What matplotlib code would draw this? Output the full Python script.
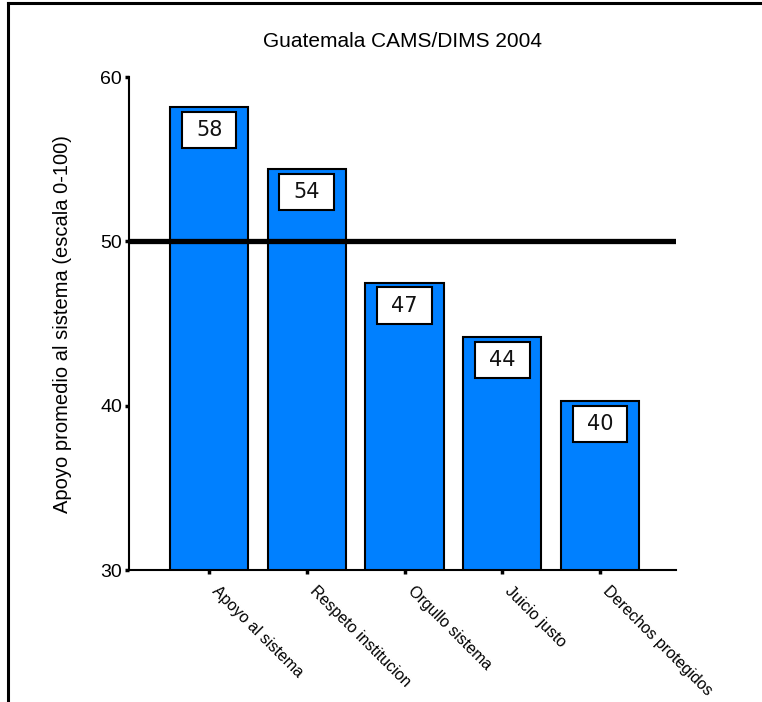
import matplotlib
matplotlib.use("Agg")
from matplotlib import pyplot as plt
from matplotlib.patches import Rectangle
from matplotlib.lines import Line2D
import numpy as np

# values
categories = ["Apoyo al sistema", "Respeto institucion", "Orgullo sistema",
              "Juicio justo", "Derechos protegidos"]
values = [58.2, 54.4, 47.5, 44.2, 40.3]
labels = ["58", "54", "47", "44", "40"]
reference = 50
yticks = [30, 40, 50, 60]

plt.rcParams['font.family'] = ['Liberation Sans', 'DejaVu Sans']

fig = plt.figure(figsize=(7.62, 7.02), dpi=100)
ax = fig.add_axes([0.1693, 0.188, 0.718, 0.702])

x = np.arange(len(categories))
ax.bar(x, values, width=0.8, bottom=0, color='#0080ff', edgecolor='black',
       linewidth=1.5, zorder=2)
ax.axhline(reference, color='black', linewidth=3.8, zorder=3)

# white value boxes sitting just inside the top of each bar
box_w, box_h, gap = 0.56, 2.2, 0.3
for xi, v, lab in zip(x, values, labels):
    ax.add_patch(Rectangle((xi - box_w / 2, v - gap - box_h), box_w, box_h,
                           facecolor='white', edgecolor='black', lw=1.5, zorder=4))
    ax.text(xi, v - gap - box_h / 2, lab, ha='center', va='center',
            fontsize=15, family='DejaVu Sans', zorder=5, color='#111111')

ax.set_xlim(-0.82, 4.78)
ax.set_ylim(30, 60)
ax.set_yticks(yticks)
ax.set_xticks(x)
ax.set_xticklabels(categories, rotation=-45, ha='left', va='bottom',
                   rotation_mode='anchor', fontsize=11.5)
ax.tick_params(axis='y', direction='out', length=3, width=2.5, labelsize=14, pad=2)
ax.tick_params(axis='x', direction='out', length=3, width=2.5, pad=14)
for side in ['top', 'right']:
    ax.spines[side].set_visible(False)
for side in ['left', 'bottom']:
    ax.spines[side].set_linewidth(1.5)
ax.set_ylabel("Apoyo promedio al sistema (escala 0-100)", fontsize=14.5, labelpad=20)
ax.set_title("Guatemala CAMS/DIMS 2004", fontsize=15, pad=22)

# frame lines at the top and left of the picture
fig.add_artist(Line2D([0.0105, 0.0105], [0, 0.996], transform=fig.transFigure,
                      color='black', lw=2.2))
fig.add_artist(Line2D([0.0105, 1], [0.996, 0.996], transform=fig.transFigure,
                      color='black', lw=2.2))

fig.savefig("out.png", dpi=100)
